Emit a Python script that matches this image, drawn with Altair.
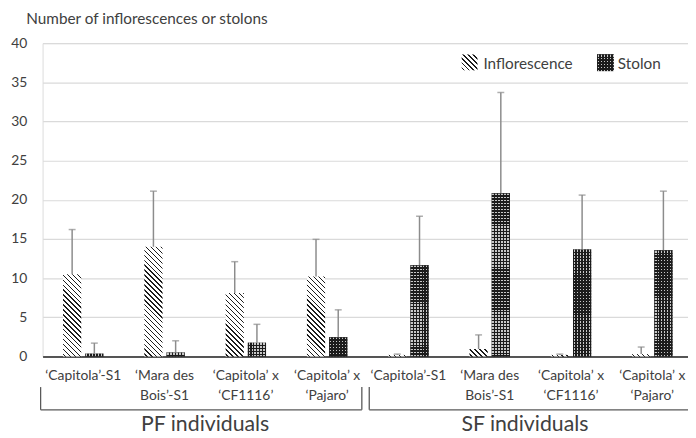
import math
import altair as alt
import pandas as pd

# ---------------- data ----------------
keys = ["PF1", "PF2", "PF3", "PF4", "SF1", "SF2", "SF3", "SF4"]
tick_labels = [
    ["‘Capitola’-S1"], ["‘Mara des", "Bois’-S1"], ["‘Capitola’ x", "‘CF1116’"], ["‘Capitola’ x", "‘Pajaro’"],
    ["‘Capitola’-S1"], ["‘Mara des", "Bois’-S1"], ["‘Capitola’ x", "‘CF1116’"], ["‘Capitola’ x", "‘Pajaro’"],
]
series_names = ["Inflorescence", "Stolon"]
inflor_mean = [10.5, 14.0, 8.1, 10.2, 0.2, 0.95, 0.2, 0.3]
inflor_err = [5.7, 7.1, 4.0, 4.75, 0.1, 1.8, 0.1, 0.9]
stolon_mean = [0.35, 0.5, 1.75, 2.45, 11.65, 20.85, 13.65, 13.55]
stolon_err = [1.35, 1.5, 2.35, 3.5, 6.25, 12.85, 6.95, 7.55]
group_names = ["PF individuals", "SF individuals"]
y_ticks = [0, 5, 10, 15, 20, 25, 30, 35, 40]
y_title = "Number of inflorescences or stolons"

# ---------------- layout / style ----------------
W, H = 653, 317
X_RANGE = 658
Y_MAX = 40
PI, PO = 0.18, 0.92
band = X_RANGE / len(keys)
step = band / (2 - PI + 2 * PO)
bar_w = step * (1 - PI)
FONT = "Lato"
TXT = "#404040"
DARK = "#1c1c1c"
HATCH_P = 5.0
DOT_P = 3.0

rows = []
for i, k in enumerate(keys):
    rows.append({"key": k, "series": series_names[0], "mean": inflor_mean[i],
                 "upper": inflor_mean[i] + inflor_err[i]})
    rows.append({"key": k, "series": series_names[1], "mean": stolon_mean[i],
                 "upper": stolon_mean[i] + stolon_err[i]})
df = pd.DataFrame(rows)


def stripe_stops(n, frac, on, off):
    stops = [{"offset": 0, "color": off}]
    k = 0
    while True:
        a = (k + 0.5 - frac / 2) / n
        b = (k + 0.5 + frac / 2) / n
        if a >= 1:
            break
        b = min(b, 1.0)
        a = round(a, 5)
        b = round(b, 5)
        stops += [{"offset": a, "color": off}, {"offset": a, "color": on},
                  {"offset": b, "color": on}, {"offset": b, "color": off}]
        k += 1
    stops.append({"offset": 1, "color": off})
    return stops


def hatch(w, h):
    h = max(h, 0.5)
    L = w + h
    s = L / (w * w + h * h)
    n = L / HATCH_P
    return alt.LinearGradient(gradient="linear", x1=0, y1=1, x2=w * s, y2=1 - h * s,
                              stops=stripe_stops(n, 0.3, DARK, "#ffffff"))


def dots_rows(h):
    h = max(h, 0.5)
    return alt.LinearGradient(gradient="linear", x1=0, y1=0, x2=0, y2=1,
                              stops=stripe_stops(max(h / DOT_P, 1), 0.5, "#c8c8c8", DARK))


def dots_cols(w):
    return alt.LinearGradient(gradient="linear", x1=0, y1=0, x2=1, y2=0,
                              stops=stripe_stops(w / DOT_P, 0.5, "rgba(0,0,0,0)", DARK))


label_map = "{" + ", ".join(
    "'%s': [%s]" % (k, ", ".join("'%s'" % t for t in lab)) for k, lab in zip(keys, tick_labels)
) + "}"

x_enc = alt.X("key:N", sort=keys,
              scale=alt.Scale(domain=keys, range=[0, X_RANGE], paddingInner=0, paddingOuter=0),
              axis=alt.Axis(title=None, labelAngle=0, ticks=False, tickSize=0, labelPadding=12,
                            labelExpr=label_map + "[datum.value]", labelBaseline="top",
                            labelLineHeight=20.5, labelFontSize=14, labelColor=TXT, labelFont=FONT,
                            domainColor="#262626", domainWidth=1.5, grid=False))
xo_enc = alt.XOffset("series:N", sort=series_names,
                     scale=alt.Scale(domain=series_names, paddingInner=PI, paddingOuter=PO))
y_axis = alt.Axis(title=y_title, values=y_ticks, grid=True, gridColor="#dadada",
                  gridWidth=1.2, domain=False, ticks=False, labelPadding=16, labelOverlap=False,
                  labelFontSize=14, labelColor=TXT, labelFont=FONT,
                  titleAngle=0, titleAlign="left", titleBaseline="alphabetic",
                  titleX=-17, titleY=-19.5, titleFontSize=15.5, titleFontWeight="normal",
                  titleColor=TXT, titleFont=FONT)
y_scale = alt.Scale(domain=[0, Y_MAX], nice=False)
y_enc = alt.Y("mean:Q", scale=y_scale, axis=y_axis)

base = alt.Chart(df)
layers = []
for i, k in enumerate(keys):
    hi = inflor_mean[i] / Y_MAX * H
    hs = stolon_mean[i] / Y_MAX * H
    sel_i = (alt.datum.key == k) & (alt.datum.series == series_names[0])
    sel_s = (alt.datum.key == k) & (alt.datum.series == series_names[1])
    layers.append(base.transform_filter(sel_i).mark_bar(fill=hatch(bar_w, hi), strokeWidth=0)
                  .encode(x=x_enc, xOffset=xo_enc, y=y_enc))
    layers.append(base.transform_filter(sel_s).mark_bar(fill=dots_rows(hs), strokeWidth=0)
                  .encode(x=x_enc, xOffset=xo_enc, y=y_enc))
    layers.append(base.transform_filter(sel_s).mark_bar(fill=dots_cols(bar_w), strokeWidth=0)
                  .encode(x=x_enc, xOffset=xo_enc, y=y_enc))

err_rule = base.mark_rule(color="#8c8c8c", strokeWidth=1.5).encode(
    x=x_enc, xOffset=xo_enc, y=y_enc, y2="upper:Q")
err_cap = base.mark_tick(color="#8c8c8c", thickness=1.5, size=7).encode(
    x=x_enc, xOffset=xo_enc, y=alt.Y("upper:Q", scale=y_scale, axis=y_axis))
layers += [err_rule, err_cap]

# legend (manual)
one = alt.Chart(pd.DataFrame({"series": series_names}))
layers.append(one.transform_filter(alt.datum.series == series_names[0])
              .mark_square(size=256, fill=hatch(16, 16), strokeWidth=0, opacity=1)
              .encode(x=alt.value(432), y=alt.value(19.5)))
layers.append(one.transform_filter(alt.datum.series == series_names[1])
              .mark_square(size=289, fill=dots_rows(17), strokeWidth=0, opacity=1)
              .encode(x=alt.value(569.5), y=alt.value(19.8)))
layers.append(one.transform_filter(alt.datum.series == series_names[1])
              .mark_square(size=289, fill=dots_cols(17), strokeWidth=0, opacity=1)
              .encode(x=alt.value(569.5), y=alt.value(19.8)))
layers.append(one.mark_text(align="left", baseline="middle", fontSize=15.5, font=FONT, color=TXT)
              .encode(x=alt.value(446), y=alt.value(21), text="series:N")
              .transform_filter(alt.datum.series == series_names[0]))
layers.append(one.mark_text(align="left", baseline="middle", fontSize=15.5, font=FONT, color=TXT)
              .encode(x=alt.value(582), y=alt.value(21), text="series:N")
              .transform_filter(alt.datum.series == series_names[1]))

# group brackets and labels
boundary = 4 * band
BR_TOP, BR_BOT = 348, 371
BR_COL = "#595959"
segs = [
    (-2, -2, BR_TOP, BR_BOT), (-2, boundary - 6, BR_BOT, BR_BOT), (boundary - 6, boundary - 6, BR_TOP, BR_BOT),
    (boundary + 1.5, boundary + 1.5, BR_TOP, BR_BOT), (boundary + 1.5, X_RANGE + 10, BR_BOT, BR_BOT),
]
for (xa, xb, ya, yb) in segs:
    layers.append(one.transform_filter(alt.datum.series == series_names[0])
                  .mark_rule(color=BR_COL, strokeWidth=1.3)
                  .encode(x=alt.value(xa), x2=alt.value(xb), y=alt.value(ya), y2=alt.value(yb)))

gdf = pd.DataFrame({"g": group_names})
layers.append(alt.Chart(gdf).transform_filter(alt.datum.g == group_names[0])
              .mark_text(align="center", baseline="alphabetic", fontSize=21.5, font=FONT, color=TXT)
              .encode(x=alt.value(164.5), y=alt.value(392), text="g:N"))
layers.append(alt.Chart(gdf).transform_filter(alt.datum.g == group_names[1])
              .mark_text(align="center", baseline="alphabetic", fontSize=21.5, font=FONT, color=TXT)
              .encode(x=alt.value(488), y=alt.value(392), text="g:N"))

chart = alt.layer(*layers).properties(
    width=W, height=H,
    autosize=alt.AutoSizeParams(type="none"),
    padding={"left": 35, "top": 33, "right": 0, "bottom": 82},
).configure_view(stroke=None).configure(font=FONT)

chart.save("out.html", embed_options={"renderer": "svg", "actions": False})
